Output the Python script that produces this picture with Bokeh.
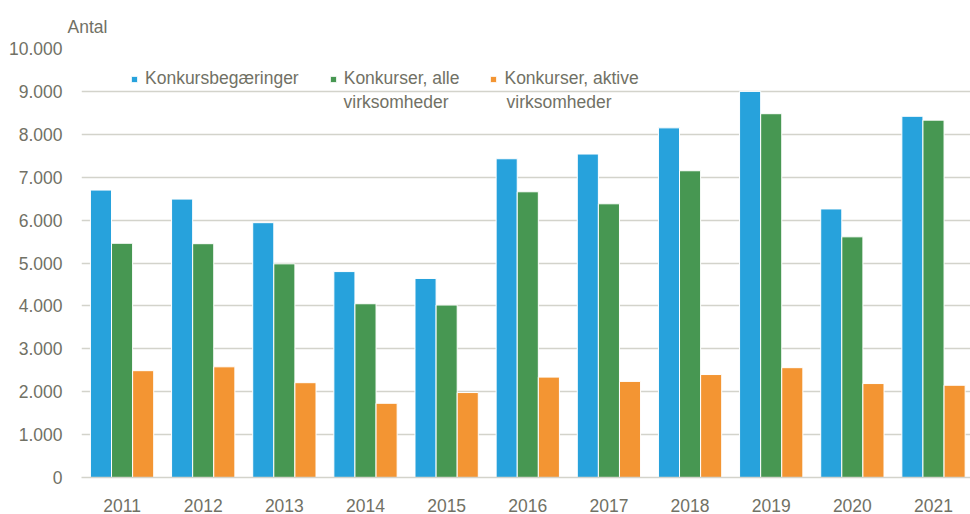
from bokeh.plotting import figure
from bokeh.models import Range1d, FixedTicker, Legend, LegendItem, Label, Title, ColumnDataSource
from bokeh.transform import dodge
from bokeh.embed import file_html
from bokeh.resources import INLINE

years = ["2011", "2012", "2013", "2014", "2015", "2016", "2017", "2018", "2019", "2020", "2021"]
konkursbegaeringer = [6700, 6490, 5940, 4800, 4640, 7430, 7540, 8150, 9000, 6260, 8420]
konkurser_alle = [5460, 5450, 4980, 4050, 4020, 6660, 6380, 7150, 8480, 5610, 8330]
konkurser_aktive = [2490, 2580, 2210, 1730, 1980, 2340, 2240, 2400, 2560, 2190, 2150]
y_ticks = [0, 1000, 2000, 3000, 4000, 5000, 6000, 7000, 8000, 9000, 10000]
y_tick_labels = ["0", "1.000", "2.000", "3.000", "4.000", "5.000", "6.000", "7.000", "8.000", "9.000", "10.000"]
series_first_lines = ["Konkursbegæringer", "Konkurser, alle", "Konkurser, aktive"]
series_second_lines = ["", "virksomheder", "virksomheder"]
colors = ["#27a2dc", "#479752", "#f39533"]

FONT = "Liberation Sans"
TXT = "#717165"
FS = "17.5px"

xs = list(range(len(years)))
src = ColumnDataSource(dict(x=xs, a=konkursbegaeringer, b=konkurser_alle, c=konkurser_aktive))

p = figure(width=970, height=514, output_backend="svg", toolbar_location=None,
           x_range=Range1d(-0.5, 10.456), y_range=Range1d(0, 10000),
           min_border_left=81, min_border_right=0, min_border_top=48, min_border_bottom=37)
p.outline_line_color = None
p.background_fill_color = "white"

rs = []
for col, off, c in zip(["a", "b", "c"], [-0.26, 0.0, 0.26], colors):
    r = p.vbar(x=dodge("x", off, range=p.x_range), top=col, width=0.26, source=src,
               fill_color=c, line_color="white", line_width=1)
    rs.append(r)

# axes
p.xgrid.grid_line_color = None
p.ygrid.grid_line_color = "#d3d3cb"
p.ygrid.grid_line_width = 1.6
p.ygrid.ticker = FixedTicker(ticks=y_ticks)

p.yaxis.ticker = FixedTicker(ticks=y_ticks)
p.yaxis.major_label_overrides = {t: l for t, l in zip(y_ticks, y_tick_labels)}
p.yaxis.axis_line_color = None
p.yaxis.major_tick_line_color = None
p.yaxis.minor_tick_line_color = None
p.yaxis.major_tick_out = 0
p.yaxis.major_tick_in = 0
p.yaxis.minor_tick_out = 0
p.yaxis.major_label_standoff = 19
p.yaxis.major_label_text_font = FONT
p.yaxis.major_label_text_font_size = FS
p.yaxis.major_label_text_color = TXT

p.xaxis.ticker = FixedTicker(ticks=xs)
p.xaxis.major_label_overrides = {i: y for i, y in zip(xs, years)}
p.xaxis.axis_line_color = "#d3d3cb"
p.xaxis.axis_line_width = 1.6
p.xaxis.major_tick_line_color = None
p.xaxis.minor_tick_line_color = None
p.xaxis.major_tick_out = 0
p.xaxis.major_tick_in = 0
p.xaxis.minor_tick_out = 0
p.xaxis.major_label_standoff = 21
p.xaxis.major_label_text_font = FONT
p.xaxis.major_label_text_font_size = FS
p.xaxis.major_label_text_color = TXT

legend = Legend(items=[LegendItem(label=n, renderers=[r]) for n, r in zip(series_first_lines, rs)],
                location=(49, 388), orientation="horizontal",
                glyph_width=8, glyph_height=8, label_standoff=7, spacing=30,
                padding=0, margin=0, border_line_color=None, background_fill_alpha=0,
                label_text_font=FONT, label_text_font_size=FS, label_text_color=TXT)
p.add_layout(legend, "center")

for txt, sx in zip(series_second_lines[1:], [262, 425]):
    p.add_layout(Label(x=sx, y=375.5, x_units="screen", y_units="screen", text=txt,
                       text_baseline="middle", text_font=FONT, text_font_size=FS, text_color=TXT))

p.add_layout(Title(text="Antal", align="left", offset=-14, standoff=23,
                   text_font=FONT, text_font_size=FS, text_color=TXT,
                   text_font_style="normal"), "above")

open("out.html", "w").write(file_html(p, INLINE))
